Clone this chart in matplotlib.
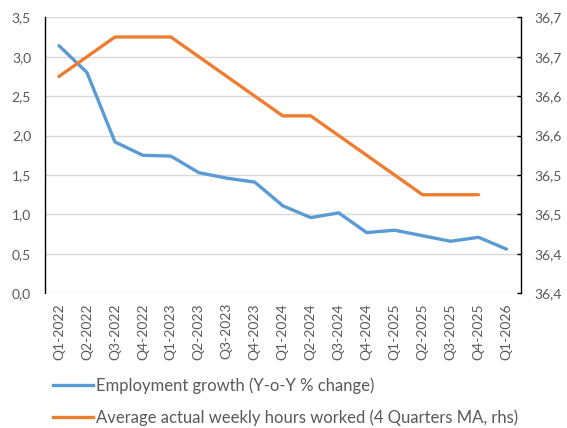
import matplotlib
matplotlib.use("Agg")
import matplotlib.pyplot as plt
from matplotlib.lines import Line2D

plt.rcParams['font.family'] = ['Lato', 'DejaVu Sans']

quarters = ["Q1-2022", "Q2-2022", "Q3-2022", "Q4-2022", "Q1-2023", "Q2-2023",
            "Q3-2023", "Q4-2023", "Q1-2024", "Q2-2024", "Q3-2024", "Q4-2024",
            "Q1-2025", "Q2-2025", "Q3-2025", "Q4-2025", "Q1-2026"]
employment_growth = [3.14, 2.80, 1.92, 1.75, 1.74, 1.53, 1.46, 1.41, 1.11, 0.96,
                     1.02, 0.77, 0.80, 0.73, 0.66, 0.71, 0.56]
hours_worked = [36.675, 36.700, 36.725, 36.725, 36.725, 36.700, 36.675, 36.650,
                36.625, 36.625, 36.600, 36.575, 36.550, 36.525, 36.525, 36.525]
left_ticks = [0.0, 0.5, 1.0, 1.5, 2.0, 2.5, 3.0, 3.5]
left_labels = ["0,0", "0,5", "1,0", "1,5", "2,0", "2,5", "3,0", "3,5"]
right_ticks = [36.40, 36.45, 36.50, 36.55, 36.60, 36.65, 36.70, 36.75]
right_labels = ["36,4", "36,4", "36,5", "36,5", "36,6", "36,6", "36,7", "36,7"]
legend_labels = ["Employment growth (Y-o-Y % change)",
                 "Average actual weekly hours worked (4 Quarters MA, rhs)"]

BLUE = "#5B9BD5"
ORANGE = "#ED7D31"
GRAY = "#595959"
GRID = "#D9D9D9"
FS_TICK = 10.0
FS_LEG = 12.0

W, H = 567, 428
fig = plt.figure(figsize=(W / 100, H / 100), dpi=100)
x0, x1, y0, y1 = 45, 520.5, 17.3, 293.3
ax = fig.add_axes([x0 / W, 1 - y1 / H, (x1 - x0) / W, (y1 - y0) / H])
ax2 = ax.twinx()

xs = list(range(len(quarters)))
ax.plot(xs, employment_growth, color=BLUE, lw=2.4, solid_capstyle='round',
        solid_joinstyle='round', zorder=3)
ax2.plot(xs[:len(hours_worked)], hours_worked, color=ORANGE, lw=2.4,
         solid_capstyle='round', solid_joinstyle='round', zorder=3)

ax.set_xlim(-0.5, len(quarters) - 0.5)
ax.set_ylim(0, 3.5)
ax2.set_ylim(36.40, 36.75)

ax.set_yticks(left_ticks)
ax.set_yticklabels(left_labels)
ax2.set_yticks(right_ticks)
ax2.set_yticklabels(right_labels)
ax.set_xticks(xs)
ax.set_xticklabels(quarters, rotation=90)

ax.grid(axis='y', color=GRID, lw=1.0)
ax.set_axisbelow(True)

for a in (ax, ax2):
    a.spines['top'].set_visible(False)
    a.spines['bottom'].set_visible(False)
ax.spines['right'].set_visible(False)
ax2.spines['left'].set_visible(False)
ax.spines['left'].set_color('black')
ax.spines['left'].set_linewidth(1.0)
ax2.spines['right'].set_color('black')
ax2.spines['right'].set_linewidth(1.0)

ax.tick_params(axis='y', length=0, pad=10, labelsize=FS_TICK, labelcolor=GRAY)
ax.tick_params(axis='x', length=0, pad=7, labelsize=FS_TICK, labelcolor=GRAY)
ax2.tick_params(axis='y', direction='in', length=3, width=1.0, color='black',
                pad=10, labelsize=FS_TICK, labelcolor=GRAY)

handles = [Line2D([0], [0], color=BLUE, lw=2.4),
           Line2D([0], [0], color=ORANGE, lw=2.4)]
leg = fig.legend(handles, legend_labels, loc='upper left',
                 bbox_to_anchor=(53 / W, 1 - 377 / H), frameon=False,
                 fontsize=FS_LEG, handlelength=2.4, handletextpad=0.2,
                 labelspacing=0.95, borderaxespad=0, borderpad=0)
for t in leg.get_texts():
    t.set_color(GRAY)

fig.savefig("out.png", dpi=100)
